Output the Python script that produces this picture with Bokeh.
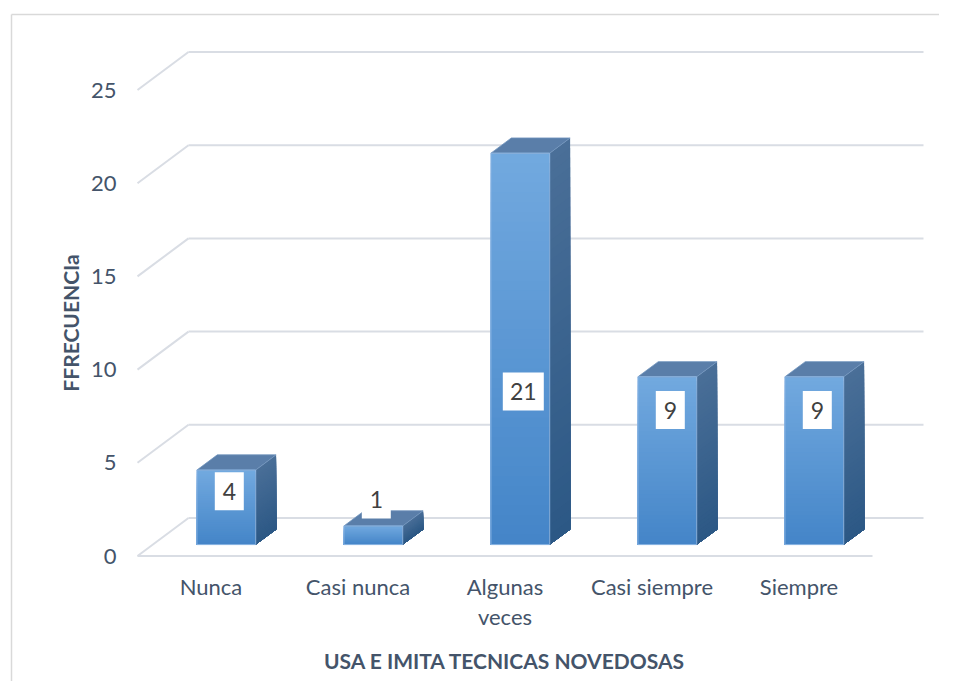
import numpy as np
from bokeh.plotting import figure
from bokeh.models import Range1d, LinearAxis, FixedTicker
from bokeh.core.properties import value
from bokeh.embed import file_html
from bokeh.resources import INLINE

# ---------------- data ----------------
categories = ["Nunca", "Casi nunca", "Algunas\nveces", "Casi siempre", "Siempre"]
frecuencia = [4, 1, 21, 9, 9]
y_ticks = [0, 5, 10, 15, 20, 25]
x_title = "USA E IMITA TECNICAS NOVEDOSAS"
y_title = "FFRECUENCIa"

# ---------------- geometry / style ----------------
W, H = 939, 681
X0 = 137.0      # canvas px of the front-left floor corner
SX = 147.0      # px per category slot (front plane)
Y0 = 555.5      # canvas px of value 0 on the front plane
SY = 18.64      # px per unit
DU = 51.0 / SX  # depth shift (x, in slot units)
DV = 38.0 / SY  # depth shift (y, in value units)

def u(cx):
    return (cx - X0) / SX

def v(cy):
    return (Y0 - cy) / SY

TEXT = "#44546A"
GRID = "#d9dde4"
FONT = "Lato"

p = figure(width=W, height=H, output_backend="svg", toolbar_location=None,
           x_axis_type=None, y_axis_type=None,
           x_range=Range1d(u(0), u(W)), y_range=Range1d(v(H), v(0)),
           min_border=0, min_border_left=0, min_border_right=0,
           min_border_top=0, min_border_bottom=0)
p.outline_line_color = None
p.background_fill_color = "white"
p.border_fill_color = "white"

n = len(categories)

# chart-area border (left and top)
p.line([u(11), u(11)], [v(H + 5), v(14)], line_color="#d9d9d9", line_width=1.5)
p.line([u(11), u(W + 5)], [v(14), v(14)], line_color="#d9d9d9", line_width=1.5)

# back wall gridlines, side wall diagonals, floor front edge
p.multi_line(xs=[[DU, n + DU] for t in y_ticks], ys=[[t + DV, t + DV] for t in y_ticks],
             line_color=GRID, line_width=2)
p.multi_line(xs=[[0, DU] for t in y_ticks], ys=[[t, t + DV] for t in y_ticks],
             line_color=GRID, line_width=2)
p.line([0, n], [0, 0], line_color=GRID, line_width=2)

# ---------------- 3D bars ----------------
bar_w = 0.40
f0, f1 = 0.3, 0.7
dx = (f1 - f0) * DU
dy = (f1 - f0) * DV
NS = 40

def mix(c1, c2, t):
    a = [int(c1[i:i + 2], 16) for i in (1, 3, 5)]
    b = [int(c2[i:i + 2], 16) for i in (1, 3, 5)]
    return "#%02x%02x%02x" % tuple(int(round(a[k] + (b[k] - a[k]) * t)) for k in range(3))

FRONT_BOT, FRONT_TOP = "#4485c8", "#72a9df"
SIDE_BOT, SIDE_TOP = "#2c5885", "#4a6f98"
TOP_C = "#5a7ea9"

# gradients: layered from tallest (top colour) to shortest (bottom colour), all from the base
ql, qr, qb, qt, qc = [], [], [], [], []
sxs, sys_, scol = [], [], []
txs, tys = [], []
base = f0 * DV
for i, val in enumerate(frecuencia):
    left = i + 0.5 - bar_w / 2 + f0 * DU
    right = left + bar_w
    for k in range(NS - 1, -1, -1):
        t = base + val * (k + 1) / NS
        tt = (k + 0.5) / NS
        ql.append(left); qr.append(right); qb.append(base); qt.append(t)
        qc.append(mix(FRONT_BOT, FRONT_TOP, tt))
        sxs.append([right, right + dx, right + dx, right])
        sys_.append([base, base + dy, t + dy, t])
        scol.append(mix(SIDE_BOT, SIDE_TOP, tt))
    txs.append([left, left + dx, right + dx, right])
    tys.append([base + val, base + val + dy, base + val + dy, base + val])

p.quad(left=ql, right=qr, bottom=qb, top=qt, fill_color=qc, line_color=None)
p.patches(xs=sxs, ys=sys_, fill_color=scol, line_color=None)
p.patches(xs=txs, ys=tys, fill_color=TOP_C, line_color="#6f93bd", line_width=0.8)
# subtle light edge on front faces
p.quad(left=[i + 0.5 - bar_w / 2 + f0 * DU for i in range(n)],
       right=[i + 0.5 + bar_w / 2 + f0 * DU for i in range(n)],
       bottom=[base] * n, top=[base + val for val in frecuencia],
       fill_color=None, line_color="#8db6e3", line_width=1)

# ---------------- data labels ----------------
lab_x = [i + 0.5 + f0 * DU + 3 / SX for i in range(n)]
lab_y = [min(max(val * 0.87, 3.03), 8.83) for val in frecuencia]
lab_t = [str(val) for val in frecuencia]
lab_w = [17 + 12 * len(s) for s in lab_t]
p.rect(x=lab_x, y=lab_y, width=lab_w, height=[38] * n, width_units="screen",
       height_units="screen", fill_color="white", line_color=None)
p.text(x=lab_x, y=lab_y, text=lab_t, text_font=value(FONT), text_font_size="23px",
       text_color="#404040", text_align="center", text_baseline="middle")

# ---------------- axes ----------------
yaxis = LinearAxis(fixed_location=0, ticker=FixedTicker(ticks=y_ticks))
yaxis.axis_line_color = None
yaxis.major_tick_line_color = None
yaxis.minor_tick_line_color = None
yaxis.major_label_standoff = 15
yaxis.major_label_text_font = FONT
yaxis.major_label_text_font_size = "22px"
yaxis.major_label_text_color = TEXT
p.add_layout(yaxis, "left")

centers = [i + 0.5 for i in range(n)]
xaxis = LinearAxis(fixed_location=0, ticker=FixedTicker(ticks=centers),
                   major_label_overrides={c: lab for c, lab in zip(centers, categories)})
xaxis.axis_line_color = None
xaxis.major_tick_line_color = None
xaxis.minor_tick_line_color = None
xaxis.major_label_standoff = 11
xaxis.major_label_text_font = FONT
xaxis.major_label_text_font_size = "22px"
xaxis.major_label_text_line_height = 1.1
xaxis.major_label_text_color = TEXT
p.add_layout(xaxis, "below")

# ---------------- titles ----------------
p.text(x=[n / 2], y=[v(660)], text=[x_title], text_font=value(FONT), text_font_size="21px",
       text_font_style="bold", text_color=TEXT, text_align="center", text_baseline="middle")
p.text(x=[u(70)], y=[12.5], text=[y_title], text_font=value(FONT), text_font_size="21px",
       text_font_style="bold", text_color=TEXT, text_align="center", text_baseline="middle",
       angle=np.pi / 2)

open("out.html", "w").write(file_html(p, INLINE))
